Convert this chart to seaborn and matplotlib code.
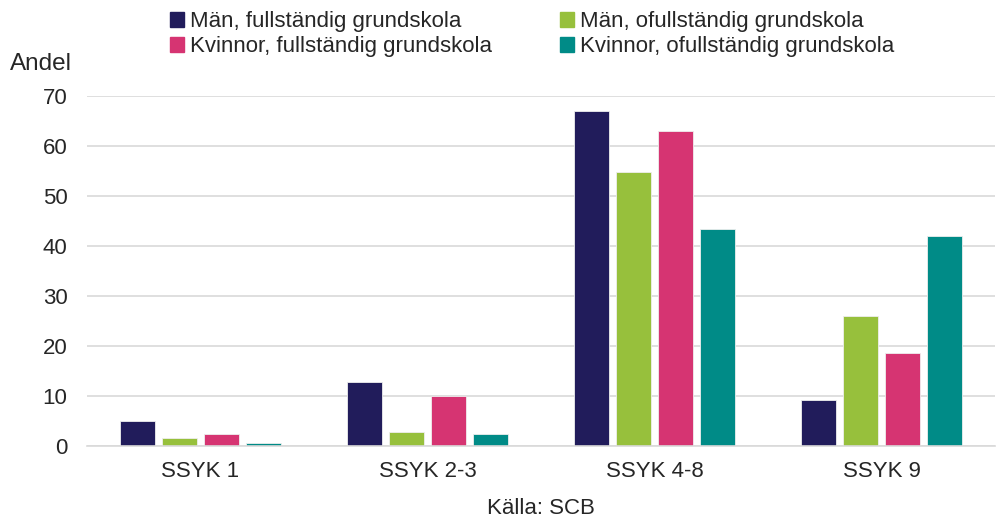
import seaborn as sns
import matplotlib.pyplot as plt
import pandas as pd

categories = ["SSYK 1", "SSYK 2-3", "SSYK 4-8", "SSYK 9"]
series = ["Män, fullständig grundskola", "Kvinnor, fullständig grundskola",
          "Män, ofullständig grundskola", "Kvinnor, ofullständig grundskola"]
man_full = [5.0, 12.9, 67.0, 9.2]
man_ofull = [1.7, 2.8, 54.8, 26.0]
kv_full = [2.5, 10.1, 63.1, 18.6]
kv_ofull = [0.6, 2.5, 43.4, 42.0]

colors = {series[0]: "#211C5B", series[2]: "#97C03C",
          series[1]: "#D63472", series[3]: "#008B87"}
hue_order = [series[0], series[2], series[1], series[3]]

rows = []
for name, vals in zip(series, [man_full, kv_full, man_ofull, kv_ofull]):
    for cat, v in zip(categories, vals):
        rows.append({"kategori": cat, "serie": name, "andel": v})
df = pd.DataFrame(rows)

sns.set_style("white")
plt.rcParams["font.family"] = ["Liberation Sans", "DejaVu Sans"]

fig = plt.figure(figsize=(9.98, 5.17), dpi=100)
ax = fig.add_axes([87 / 998, 1 - 446 / 517, (995 - 87) / 998, 350 / 517])
sns.barplot(data=df, x="kategori", y="andel", hue="serie", hue_order=hue_order,
            palette=colors, saturation=1, width=0.74, gap=0.17,
            edgecolor="#EEEEEE", linewidth=0.6, ax=ax, legend=False)

ax.set_ylim(0, 70)
ax.set_yticks(range(0, 71, 10))
ax.grid(axis="y", color="#D9D9D9", linewidth=1.2)
ax.set_axisbelow(True)
for s in ["top", "right", "left"]:
    ax.spines[s].set_visible(False)
ax.spines["bottom"].set_color("#D9D9D9")
ax.spines["bottom"].set_linewidth(1.2)
ax.tick_params(axis="y", length=0, labelsize=16, pad=14)
ax.tick_params(axis="x", length=0, labelsize=16, pad=11)
ax.set_ylabel("")
ax.set_xlabel("Källa: SCB", fontsize=16, labelpad=11)
fig.text(10 / 998, 1 - 64 / 517, "Andel", fontsize=17.5, va="center")

handles = [plt.Rectangle((0, 0), 1, 1, color=colors[s]) for s in series]
fig.legend(handles, series, ncol=2, loc="upper left",
           bbox_to_anchor=(170 / 998, 1 - 11 / 517), frameon=False,
           borderpad=0, borderaxespad=0,
           fontsize=16, handlelength=0.65, handleheight=0.65,
           handletextpad=0.25, columnspacing=3.05, labelspacing=0.2)

fig.savefig("out.png", dpi=100)
